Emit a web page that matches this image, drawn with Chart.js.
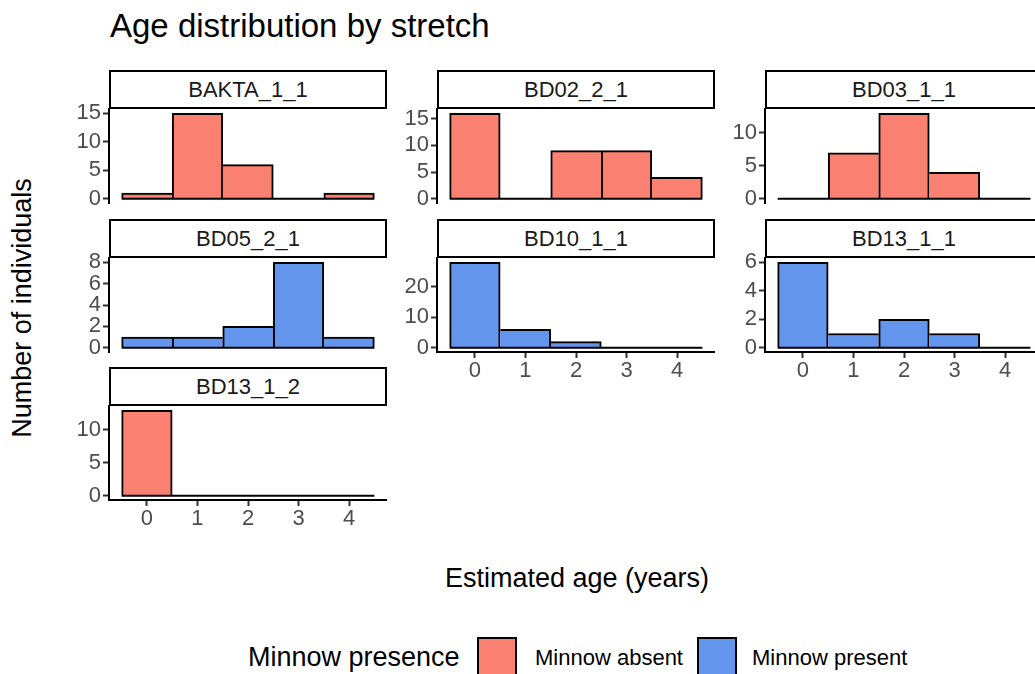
<!DOCTYPE html>
<html>
<head>
<meta charset="utf-8">
<script src="https://cdn.jsdelivr.net/npm/chart.js@4.4.1/dist/chart.umd.min.js"></script>
<style>
  html, body { margin: 0; padding: 0; background: #fff; overflow: hidden; }
  #page { position: relative; width: 1035px; height: 674px; overflow: hidden;
          font-family: "Liberation Sans", Arial, sans-serif; }
  .lbl { position: absolute; white-space: nowrap; line-height: 1; color: #000; }
  .strip { position: absolute; box-sizing: border-box; border: 2px solid #000; background: #fff;
           color: #1a1a1a; font-size: 22px; text-align: center; line-height: 35px; }
  .key { position: absolute; box-sizing: border-box; border: 2px solid #000; }
  canvas { position: absolute; }
</style>
</head>
<body>
<div id="page">
  <div class="lbl" style="left:110px; top:9px; font-size:33px;">Age distribution by stretch</div>
  <div class="lbl" style="left:22px; top:308px; font-size:27px; transform:translate(-50%,-50%) rotate(-90deg);">Number of individuals</div>
  <div class="lbl" style="left:577px; top:565px; font-size:27px; transform:translateX(-50%);">Estimated age (years)</div>

  <div class="lbl" style="left:248px; top:644px; font-size:27px;">Minnow presence</div>
  <div class="key" style="left:477px; top:637px; width:40px; height:50px; background:salmon;"></div>
  <div class="lbl" style="left:535px; top:647px; font-size:22px;">Minnow absent</div>
  <div class="key" style="left:697px; top:637px; width:40px; height:50px; background:cornflowerblue;"></div>
  <div class="lbl" style="left:752px; top:647px; font-size:22px;">Minnow present</div>
</div>
<script>
// histogram bin centres (estimated age in years)
const ages = [0, 1, 2, 3, 4];

// number of individuals per age bin, one array per stretch
const bakta_1_1 = [1, 15, 6, 0, 1];
const bd02_2_1 = [16, 0, 9, 9, 4];
const bd03_1_1 = [0, 7, 13, 4, 0];
const bd05_2_1 = [1, 1, 2, 8, 1];
const bd10_1_1 = [28, 6, 2, 0, 0];
const bd13_1_1 = [6, 1, 2, 1, 0];
const bd13_1_2 = [13, 0, 0, 0, 0];

// y tick labels, each panel has its own scale
const yt_bakta_1_1 = [0, 5, 10, 15];
const yt_bd02_2_1 = [0, 5, 10, 15];
const yt_bd03_1_1 = [0, 5, 10];
const yt_bd05_2_1 = [0, 2, 4, 6, 8];
const yt_bd10_1_1 = [0, 10, 20];
const yt_bd13_1_1 = [0, 2, 4, 6];
const yt_bd13_1_2 = [0, 5, 10];

const fills = { absent: 'salmon', present: 'cornflowerblue' };

const panels = [
  { name: 'BAKTA_1_1', counts: bakta_1_1, yTicks: yt_bakta_1_1, minnow: 'absent' },
  { name: 'BD02_2_1', counts: bd02_2_1, yTicks: yt_bd02_2_1, minnow: 'absent' },
  { name: 'BD03_1_1', counts: bd03_1_1, yTicks: yt_bd03_1_1, minnow: 'absent' },
  { name: 'BD05_2_1', counts: bd05_2_1, yTicks: yt_bd05_2_1, minnow: 'present' },
  { name: 'BD10_1_1', counts: bd10_1_1, yTicks: yt_bd10_1_1, minnow: 'present' },
  { name: 'BD13_1_1', counts: bd13_1_1, yTicks: yt_bd13_1_1, minnow: 'present' },
  { name: 'BD13_1_2', counts: bd13_1_2, yTicks: yt_bd13_1_2, minnow: 'absent' }
];

// facet layout (3 columns, free y)
const colLeft = [109, 437, 765];
const stripTop = [70, 219, 367];
const panelW = 278, stripH = 39, plotH = 94;
const axisW = 45, axisH = 36, pad = 15;
const fontFamily = '"Liberation Sans", Arial, sans-serif';

// outline like ggplot: neighbouring bars share one edge
function edges(vals, i) {
  const v = vals[i];
  const prev = i > 0 ? vals[i - 1] : 0;
  const next = i < vals.length - 1 ? vals[i + 1] : 0;
  return { top: 2, bottom: 0, left: prev <= v ? 2 : 0, right: next < v ? 2 : 0 };
}

const page = document.getElementById('page');

panels.forEach((p, i) => {
  const col = i % 3, row = Math.floor(i / 3);
  const hasX = i + 3 >= panels.length; // last panel in its column
  const left = colLeft[col], top = stripTop[row];

  const strip = document.createElement('div');
  strip.className = 'strip';
  strip.style.left = left + 'px';
  strip.style.top = top + 'px';
  strip.style.width = panelW + 'px';
  strip.style.height = stripH + 'px';
  strip.textContent = p.name;

  const cv = document.createElement('canvas');
  const w = axisW + panelW;
  const h = pad + plotH + (hasX ? axisH : pad);
  cv.width = w; cv.height = h;
  cv.style.width = w + 'px'; cv.style.height = h + 'px';
  cv.style.left = (left - axisW) + 'px';
  cv.style.top = (top + stripH - pad) + 'px';
  page.appendChild(cv);
  page.appendChild(strip);

  const yMax = Math.max(...p.counts);

  new Chart(cv, {
    type: 'bar',
    data: {
      datasets: [
        {
          type: 'line',
          data: [{ x: -0.5, y: 0 }, { x: 4.5, y: 0 }],
          borderColor: '#000',
          borderWidth: 2,
          pointRadius: 0,
          order: 0
        },
        {
          data: ages.map((a, k) => ({ x: a, y: p.counts[k] })),
          backgroundColor: fills[p.minnow],
          borderColor: '#000',
          borderWidth: ctx => edges(p.counts, ctx.dataIndex),
          barPercentage: 1,
          categoryPercentage: 1,
          order: 1
        }
      ]
    },
    options: {
      responsive: false,
      animation: false,
      devicePixelRatio: 1,
      layout: { padding: { top: pad, bottom: hasX ? 0 : pad, left: 0, right: 0 } },
      plugins: { legend: { display: false }, tooltip: { enabled: false } },
      scales: {
        x: {
          type: 'linear',
          display: hasX,
          min: -0.75,
          max: 4.75,
          offset: false,
          afterBuildTicks: ax => { ax.ticks = ages.map(v => ({ value: v })); },
          afterFit: ax => {
            ax.height = hasX ? axisH : 0;
            ax.paddingLeft = 0; ax.paddingRight = 0;
          },
          grid: { display: true, offset: false, drawOnChartArea: false, drawTicks: true,
                  tickLength: 6, tickWidth: 2, tickColor: '#333' },
          border: { display: true, color: '#000', width: 2 },
          ticks: { color: '#4d4d4d', font: { size: 22, family: fontFamily },
                   padding: 0, maxRotation: 0, autoSkip: false }
        },
        y: {
          type: 'linear',
          min: -0.05 * yMax,
          max: 1.05 * yMax,
          afterBuildTicks: ax => { ax.ticks = p.yTicks.map(v => ({ value: v })); },
          afterFit: ax => { ax.width = axisW; ax.paddingTop = 0; ax.paddingBottom = 0; },
          grid: { display: true, drawOnChartArea: false, drawTicks: true,
                  tickLength: 6, tickWidth: 2, tickColor: '#333' },
          border: { display: true, color: '#000', width: 2 },
          ticks: { color: '#4d4d4d', font: { size: 22, family: fontFamily }, padding: 2,
                   autoSkip: false }
        }
      }
    }
  });
});
</script>
</body>
</html>
